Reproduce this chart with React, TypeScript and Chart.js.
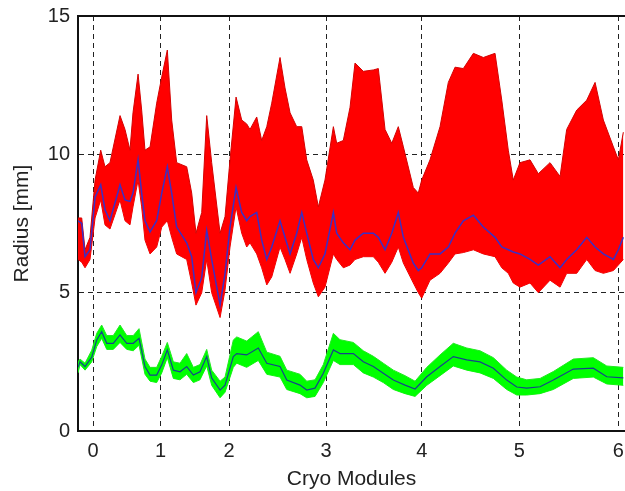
import { useEffect, useRef } from "react";
import { Chart, registerables } from "chart.js";

Chart.register(...registerables);

// Module boundary positions along the beam line (arbitrary length unit) and their labels
const tickPositions = [0, 0.694, 1.395, 2.39, 3.371, 4.372, 5.388];
const tickLabels = ["0", "1", "2", "3", "4", "5", "6"];

// Horizontal plane (red bundle): positions, upper / lower envelope and mean (blue)
const redX = [
  -0.154, -0.116, -0.082, -0.031, 0.021, 0.079, 0.123, 0.174, 0.277, 0.328, 0.379, 0.41, 0.462,
  0.499, 0.533, 0.585, 0.653, 0.705, 0.762, 0.807, 0.858, 0.961, 1.012, 1.056, 1.115, 1.166,
  1.217, 1.303, 1.354, 1.405, 1.467, 1.525, 1.576, 1.61, 1.679, 1.73, 1.782, 1.833, 1.918,
  1.969, 2.021, 2.089, 2.141, 2.192, 2.259, 2.311, 2.379, 2.465, 2.499, 2.567, 2.636, 2.687,
  2.772, 2.875, 2.926, 2.995, 3.064, 3.131, 3.183, 3.285, 3.336, 3.371, 3.456, 3.559, 3.644,
  3.713, 3.798, 3.901, 4.003, 4.123, 4.192, 4.259, 4.31, 4.379, 4.482, 4.567, 4.687, 4.79,
  4.858, 4.961, 5.064, 5.149, 5.234, 5.337, 5.388, 5.439,
];
const redUpper = [
  7.7, 7.7, 6.55, 7.0, 9.07, 10.15, 9.55, 9.7, 11.4, 10.9, 10.15, 11.5, 12.9,
  11.6, 10.15, 10.27, 11.85, 12.8, 13.77, 11.24, 9.7, 9.55, 8.6, 7.15, 7.9, 11.4,
  9.7, 7.15, 7.75, 9.8, 12.07, 11.24, 11.1, 10.9, 11.35, 10.5, 11.0, 11.85, 13.5,
  12.4, 11.5, 11.0, 11.0, 9.8, 9.07, 8.1, 9.07, 11.0, 10.4, 10.5, 11.7, 13.3,
  13.0, 13.05, 13.1, 10.9, 10.4, 11.0, 10.27, 8.8, 8.6, 9.07, 9.8, 11.0, 12.6,
  13.15, 13.1, 13.65, 13.5, 13.65, 11.96, 10.15, 9.07, 9.7, 9.8, 9.3, 9.7, 9.2,
  10.9, 11.6, 11.96, 12.6, 11.24, 10.27, 9.8, 10.8,
];
const redMean = [
  7.6, 7.5, 6.3, 6.55, 8.45, 8.9, 8.0, 7.6, 8.9, 8.35, 8.3, 8.6, 9.8,
  8.6, 7.6, 7.2, 7.6, 8.6, 9.55, 8.6, 7.37, 6.8, 6.3, 5.0, 5.55, 7.25,
  6.2, 4.55, 5.7, 7.37, 8.8, 7.9, 7.6, 7.75, 7.9, 6.9, 6.2, 6.65, 7.6,
  7.0, 6.4, 7.15, 7.9, 7.15, 6.2, 5.9, 6.4, 7.9, 7.15, 6.8, 6.55, 6.9,
  7.15, 7.15, 7.0, 6.55, 7.15, 7.9, 7.0, 6.07, 5.8, 5.9, 6.4, 6.4, 6.65,
  7.15, 7.6, 7.8, 7.37, 7.0, 6.65, 6.55, 6.47, 6.4, 6.2, 6.0, 6.3, 5.9,
  6.2, 6.55, 7.0, 6.65, 6.4, 6.2, 6.55, 7.0,
];
const redLower = [
  6.2, 6.1, 5.9, 6.2, 7.7, 8.35, 7.45, 7.3, 8.35, 7.6, 7.45, 8.1, 9.07,
  8.1, 6.9, 6.4, 6.65, 7.37, 7.6, 7.0, 6.4, 6.2, 5.35, 4.55, 5.0, 6.2,
  5.0, 4.1, 5.1, 6.65, 8.1, 7.15, 6.65, 6.8, 6.4, 5.9, 5.28, 5.57, 6.65,
  6.2, 5.7, 6.4, 7.0, 6.2, 5.35, 4.85, 5.2, 6.4, 6.2, 5.9, 6.0, 6.2,
  6.3, 6.3, 6.1, 5.7, 6.1, 6.65, 6.07, 5.35, 5.0, 4.8, 5.45, 5.7, 6.07,
  6.4, 6.45, 6.55, 6.4, 6.3, 5.9, 5.7, 5.35, 5.2, 5.35, 5.0, 5.45, 5.2,
  5.7, 5.7, 6.2, 5.8, 5.7, 5.8, 6.0, 6.2,
];

// Vertical plane (green bundle): positions, upper / lower envelope and mean (blue)
const greenX = [
  -0.154, -0.133, -0.082, -0.013, 0.038, 0.089, 0.141, 0.208, 0.277, 0.346, 0.413, 0.472,
  0.533, 0.585, 0.653, 0.705, 0.762, 0.824, 0.892, 0.961, 1.029, 1.097, 1.166, 1.217, 1.303,
  1.354, 1.439, 1.474, 1.576, 1.695, 1.782, 1.918, 1.987, 2.123, 2.192, 2.277, 2.362, 2.465,
  2.533, 2.67, 2.772, 2.875, 2.977, 3.08, 3.2, 3.303, 3.423, 3.559, 3.695, 3.833, 3.969,
  4.106, 4.243, 4.346, 4.448, 4.585, 4.721, 4.926, 5.131, 5.269, 5.439,
];
const greenMean = [
  2.3, 2.5, 2.33, 2.67, 3.29, 3.59, 3.17, 3.17, 3.47, 3.17, 3.17, 3.35,
  2.33, 2.02, 2.02, 2.39, 2.93, 2.2, 2.14, 2.33, 2.02, 2.14, 2.69, 1.92, 1.48,
  1.66, 2.69, 2.8, 2.75, 3.0, 2.45, 2.33, 1.84, 1.66, 1.48, 1.55, 2.09, 2.93,
  2.8, 2.8, 2.5, 2.33, 2.09, 1.84, 1.66, 1.52, 1.96, 2.33, 2.69, 2.57, 2.5,
  2.27, 1.84, 1.59, 1.55, 1.6, 1.84, 2.24, 2.27, 1.96, 1.92,
];
const greenUpper = [
  2.5, 2.6, 2.45, 2.92, 3.53, 3.83, 3.45, 3.45, 3.83, 3.45, 3.45, 3.7,
  2.6, 2.3, 2.3, 2.7, 3.2, 2.5, 2.45, 2.8, 2.3, 2.4, 2.95, 2.2, 1.8,
  1.95, 3.29, 3.4, 3.25, 3.59, 2.85, 2.7, 2.2, 2.05, 1.8, 1.85, 2.4, 3.53,
  3.3, 3.2, 2.9, 2.7, 2.45, 2.2, 2.0, 1.8, 2.3, 2.75, 3.17, 3.0, 2.9,
  2.65, 2.2, 1.95, 1.85, 1.9, 2.15, 2.6, 2.65, 2.35, 2.3,
];
const greenLower = [
  2.1, 2.4, 2.2, 2.5, 3.05, 3.35, 2.95, 2.95, 3.2, 2.95, 2.9, 3.1,
  2.05, 1.8, 1.75, 2.1, 2.65, 1.9, 1.85, 2.05, 1.75, 1.85, 2.35, 1.65, 1.2,
  1.4, 2.3, 2.45, 2.3, 2.55, 2.05, 1.95, 1.5, 1.35, 1.2, 1.25, 1.75, 2.55,
  2.4, 2.4, 2.1, 1.95, 1.75, 1.5, 1.35, 1.25, 1.65, 2.0, 2.35, 2.2, 2.1,
  1.9, 1.5, 1.3, 1.3, 1.35, 1.5, 1.9, 1.95, 1.7, 1.65,
];

const xMin = -0.154;
const xMax = 5.456;

function pts(xs: number[], ys: number[]) {
  return xs.map((x, i) => ({ x, y: ys[i] }));
}

const FONT = "'Liberation Sans', Arial, Helvetica, sans-serif";

const frame = {
  id: "frame",
  afterDraw(chart: any) {
    const { ctx, chartArea } = chart;
    ctx.save();
    ctx.strokeStyle = "#111";
    ctx.lineWidth = 2;
    ctx.beginPath();
    ctx.moveTo(chartArea.left, chartArea.top);
    ctx.lineTo(chartArea.right, chartArea.top);
    ctx.stroke();
    ctx.restore();
  },
};

export default function App() {
  const ref = useRef<HTMLCanvasElement | null>(null);
  useEffect(() => {
    if (!ref.current) return;
    const line = (extra: any) => ({
      pointRadius: 0,
      tension: 0,
      fill: false,
      ...extra,
    });
    const chart = new Chart(ref.current, {
      type: "line",
      data: {
        datasets: [
          line({ label: "x mean", data: pts(redX, redMean), borderColor: "#3b2fc4", borderWidth: 1.5 }),
          line({ label: "y mean", data: pts(greenX, greenMean), borderColor: "#15448a", borderWidth: 1.2 }),
          line({
            label: "x upper",
            data: pts(redX, redUpper),
            borderColor: "#d40000",
            borderWidth: 1,
            backgroundColor: "#ff0000",
            fill: "+1",
          }),
          line({ label: "x lower", data: pts(redX, redLower), borderColor: "#e00000", borderWidth: 1 }),
          line({
            label: "y upper",
            data: pts(greenX, greenUpper),
            borderColor: "#22e822",
            borderWidth: 1,
            backgroundColor: "#00ff00",
            fill: "+1",
          }),
          line({ label: "y lower", data: pts(greenX, greenLower), borderColor: "#22e822", borderWidth: 1 }),
        ],
      },
      options: {
        animation: false,
        responsive: false,
        maintainAspectRatio: false,
        layout: { padding: { top: 16, right: 0, left: 0, bottom: 0 } },
        plugins: { legend: { display: false }, tooltip: { enabled: false } },
        scales: {
          x: {
            type: "linear",
            min: xMin,
            max: xMax,
            afterBuildTicks: (scale: any) => {
              scale.ticks = tickPositions.map((v) => ({ value: v }));
            },
            afterFit: (scale: any) => {
              scale.height = 60;
              scale.paddingLeft = 0;
              scale.paddingRight = 0;
            },
            ticks: {
              autoSkip: false,
              maxRotation: 0,
              padding: 8,
              color: "#222",
              font: { family: FONT, size: 20 },
              callback: (_v: any, i: number) => tickLabels[i],
            },
            grid: { color: "#222", lineWidth: 1, drawTicks: false },
            border: { display: true, color: "#111", width: 2, dash: [5, 4] },
            title: {
              display: true,
              text: "Cryo Modules",
              color: "#222",
              font: { family: FONT, size: 21, lineHeight: 1.14 },
              padding: { top: 0, bottom: 0 },
            },
          },
          y: {
            min: 0,
            max: 15,
            afterFit: (scale: any) => {
              scale.width = 78;
              scale.paddingTop = 0;
              scale.paddingBottom = 0;
            },
            ticks: {
              stepSize: 5,
              padding: 8,
              color: "#222",
              font: { family: FONT, size: 20 },
            },
            grid: { color: "#222", lineWidth: 1, drawTicks: false },
            border: { display: true, color: "#111", width: 2, dash: [5, 4] },
            title: {
              display: true,
              text: "Radius [mm]",
              color: "#222",
              font: { family: FONT, size: 21, lineHeight: 1.2 },
              padding: { top: 10, bottom: 0 },
            },
          },
        },
      },
      plugins: [frame],
    });
    return () => chart.destroy();
  }, []);
  return (
    <div style={{ position: "absolute", left: 0, top: 0, width: 625, height: 491, overflow: "hidden", background: "#fff" }}>
      <canvas ref={ref} width={625} height={491} style={{ display: "block" }} />
    </div>
  );
}
